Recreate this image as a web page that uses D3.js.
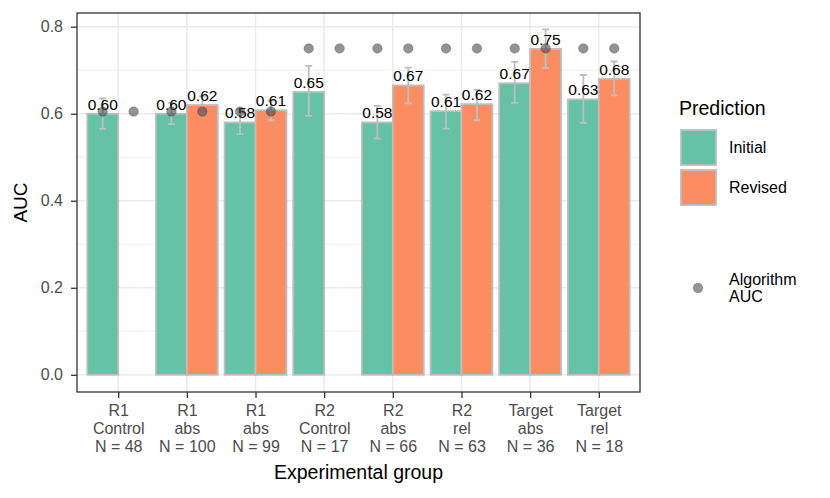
<!DOCTYPE html>
<html lang="en">
<head>
<meta charset="UTF-8"/>
<title>AUC by experimental group</title>
<script src="https://d3js.org/d3.v7.min.js"></script>
<style>
  body { margin: 0; background: #fff; }
  svg text { font-family: "Liberation Sans", Arial, sans-serif; }
</style>
</head>
<body>
<svg id="chart" width="830" height="498"></svg>
<script>
// data
const groups = ['R1|Control|N = 48', 'R1|abs|N = 100', 'R1|abs|N = 99', 'R2|Control|N = 17',
                'R2|abs|N = 66', 'R2|rel|N = 63', 'Target|abs|N = 36', 'Target|rel|N = 18'];
const predictions = ['Initial', 'Revised'];
const initialAUC   = [0.60, 0.60, 0.58, 0.65, 0.58, 0.606, 0.67, 0.633];
const initialLow   = [0.565, 0.576, 0.553, 0.595, 0.543, 0.566, 0.625, 0.579];
const initialHigh  = [0.635, 0.625, 0.61, 0.71, 0.618, 0.644, 0.719, 0.689];
const revisedAUC   = [null, 0.62, 0.608, null, 0.665, 0.622, 0.749, 0.68];
const revisedLow   = [null, 0.60, 0.585, null, 0.624, 0.585, 0.705, 0.642];
const revisedHigh  = [null, 0.64, 0.63, null, 0.706, 0.655, 0.794, 0.72];
const algorithmAUC = [0.605, 0.605, 0.605, 0.75, 0.75, 0.75, 0.75, 0.75];
const yTicks = [0, 0.2, 0.4, 0.6, 0.8];
const yMinor = [0.1, 0.3, 0.5, 0.7];

const colors = { Initial: '#66c2a5', Revised: '#fc8d62' };

const svg = d3.select('#chart');
const panel = { left: 77, right: 640, top: 13, bottom: 392 };

// continuous x with ggplot's discrete expansion (0.6 each side)
const x = d3.scaleLinear().domain([0.4, groups.length + 0.6]).range([panel.left, panel.right]);
const y = d3.scaleLinear().domain([-0.0395, 0.8315]).range([panel.bottom, panel.top]);
const unit = x(1) - x(0);
const barW = unit * 0.45;

// rows for bars
const rows = [];
groups.forEach((g, i) => {
  rows.push({ i, pred: 'Initial', v: initialAUC[i], lo: initialLow[i], hi: initialHigh[i], alg: algorithmAUC[i] });
  rows.push({ i, pred: 'Revised', v: revisedAUC[i], lo: revisedLow[i], hi: revisedHigh[i], alg: algorithmAUC[i] });
});
const cx = d => x(d.i + 1) + (d.pred === 'Initial' ? -barW / 2 : barW / 2);
const bars = rows.filter(d => d.v != null);

// grid
const grid = svg.append('g');
grid.selectAll('line.minor').data(yMinor).enter().append('line')
  .attr('x1', panel.left).attr('x2', panel.right)
  .attr('y1', d => y(d)).attr('y2', d => y(d))
  .attr('stroke', '#ebebeb').attr('stroke-width', 0.8);
grid.selectAll('line.major').data(yTicks).enter().append('line')
  .attr('x1', panel.left).attr('x2', panel.right)
  .attr('y1', d => y(d)).attr('y2', d => y(d))
  .attr('stroke', '#ebebeb').attr('stroke-width', 1.5);
grid.selectAll('line.vert').data(groups).enter().append('line')
  .attr('x1', (d, i) => x(i + 1)).attr('x2', (d, i) => x(i + 1))
  .attr('y1', panel.top).attr('y2', panel.bottom)
  .attr('stroke', '#ebebeb').attr('stroke-width', 1.5);

// bars
svg.append('g').selectAll('rect').data(bars).enter().append('rect')
  .attr('x', d => cx(d) - barW / 2)
  .attr('width', barW)
  .attr('y', d => y(d.v))
  .attr('height', d => y(0) - y(d.v))
  .attr('fill', d => colors[d.pred])
  .attr('stroke', '#bebebe').attr('stroke-width', 1.8);

// error bars
const eb = svg.append('g').attr('stroke', '#bebebe').attr('stroke-width', 1.8).attr('fill', 'none');
eb.selectAll('path').data(bars).enter().append('path')
  .attr('d', d => {
    const c = cx(d), w = 3.5;
    return `M${c - w},${y(d.hi)}H${c + w}M${c},${y(d.hi)}V${y(d.lo)}M${c - w},${y(d.lo)}H${c + w}`;
  });

// value labels
svg.append('g').selectAll('text').data(bars).enter().append('text')
  .attr('x', d => cx(d))
  .attr('y', d => y(d.v) - 4)
  .attr('text-anchor', 'middle')
  .attr('font-size', 15.5)
  .attr('fill', '#000')
  .text(d => d3.format('.2f')(d.v));

// algorithm points
svg.append('g').selectAll('circle').data(rows).enter().append('circle')
  .attr('cx', d => cx(d))
  .attr('cy', d => y(d.alg))
  .attr('r', 4.8)
  .attr('fill', '#3a3a3a').attr('fill-opacity', 0.55)
  .attr('stroke', '#3a3a3a').attr('stroke-opacity', 0.55).attr('stroke-width', 0.5);

// panel border
svg.append('rect')
  .attr('x', panel.left).attr('y', panel.top)
  .attr('width', panel.right - panel.left).attr('height', panel.bottom - panel.top)
  .attr('fill', 'none').attr('stroke', '#333').attr('stroke-width', 1.3);

// y axis
const yAxis = svg.append('g').attr('transform', `translate(${panel.left},0)`)
  .call(d3.axisLeft(y).tickValues(yTicks).tickFormat(d3.format('.1f')).tickSize(6).tickPadding(8));
yAxis.select('.domain').remove();
yAxis.selectAll('.tick line').attr('stroke', '#333').attr('stroke-width', 1.3);
yAxis.selectAll('.tick text').attr('fill', '#4d4d4d').attr('font-size', 16);

// x axis
const xAxis = svg.append('g').attr('transform', `translate(0,${panel.bottom})`)
  .call(d3.axisBottom(x).tickValues(d3.range(1, groups.length + 1)).tickSize(6).tickFormat(''));
xAxis.select('.domain').remove();
xAxis.selectAll('.tick line').attr('stroke', '#333').attr('stroke-width', 1.3);
xAxis.selectAll('.tick').each(function (d) {
  const t = d3.select(this).append('text')
    .attr('text-anchor', 'middle').attr('fill', '#4d4d4d').attr('font-size', 16);
  groups[d - 1].split('|').forEach((line, k) => {
    t.append('tspan').attr('x', 0).attr('y', 24 + k * 17.8).text(line);
  });
});

// axis titles
svg.append('text')
  .attr('x', (panel.left + panel.right) / 2).attr('y', 479)
  .attr('text-anchor', 'middle').attr('font-size', 19.5).attr('fill', '#000')
  .text('Experimental group');
svg.append('text')
  .attr('transform', `translate(27,${(panel.top + panel.bottom) / 2}) rotate(-90)`)
  .attr('text-anchor', 'middle').attr('font-size', 19).attr('fill', '#000')
  .text('AUC');

// legend
const legend = svg.append('g');
legend.append('text').attr('x', 679).attr('y', 115)
  .attr('font-size', 19.5).attr('fill', '#000').text('Prediction');
predictions.forEach((p, k) => {
  const top = 130 + k * 40;
  legend.append('rect')
    .attr('x', 681).attr('y', top).attr('width', 35).attr('height', 35)
    .attr('fill', colors[p]).attr('stroke', '#bebebe').attr('stroke-width', 1.8);
  legend.append('text').attr('x', 729).attr('y', top + 23)
    .attr('font-size', 16).attr('fill', '#000').text(p);
});
legend.append('circle').attr('cx', 698).attr('cy', 288).attr('r', 4.8)
  .attr('fill', '#3a3a3a').attr('fill-opacity', 0.55)
  .attr('stroke', '#3a3a3a').attr('stroke-opacity', 0.55).attr('stroke-width', 0.5);
legend.append('text').attr('x', 729).attr('y', 285)
  .attr('font-size', 16).attr('fill', '#000').text('Algorithm');
legend.append('text').attr('x', 729).attr('y', 302)
  .attr('font-size', 16).attr('fill', '#000').text('AUC');
</script>
</body>
</html>
